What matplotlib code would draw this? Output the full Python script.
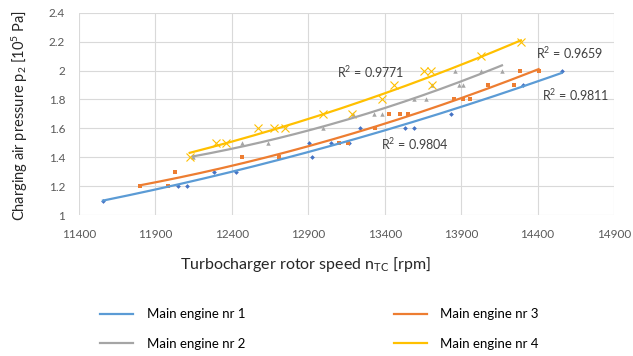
import numpy as np
import matplotlib
matplotlib.use("Agg")
import matplotlib.pyplot as plt
from matplotlib.lines import Line2D

plt.rcParams['font.family'] = ['Lato', 'DejaVu Sans']
plt.rcParams['mathtext.default'] = 'regular'

# Measured charging air pressure vs. turbocharger rotor speed
engine1_rpm = [11557, 12047, 12104, 12282, 12429, 12903, 12925, 13050, 13169,
               13241, 13535, 13590, 13836, 14307, 14557]
engine1_p = [1.1, 1.2, 1.2, 1.3, 1.3, 1.5, 1.4, 1.5, 1.5,
             1.6, 1.6, 1.6, 1.7, 1.9, 2.0]

engine2_rpm = [12145, 12468, 12635, 12993, 13191, 13333, 13383, 13594, 13670,
               13707, 13860, 13888, 13915, 14032, 14167]
engine2_p = [1.4, 1.5, 1.5, 1.6, 1.7, 1.7, 1.7, 1.8, 1.8,
             1.9, 2.0, 1.9, 1.9, 2.0, 2.0]

engine3_rpm = [11797, 11982, 12025, 12468, 12707, 13099, 13161, 13339, 13431,
               13501, 13553, 13853, 13915, 13955, 14078, 14243, 14283, 14407]
engine3_p = [1.2, 1.2, 1.3, 1.4, 1.4, 1.5, 1.5, 1.6, 1.7,
             1.7, 1.7, 1.8, 1.8, 1.8, 1.9, 1.9, 2.0, 2.0]

engine4_rpm = [12124, 12298, 12363, 12570, 12675, 12748, 12995, 13186, 13380,
               13459, 13659, 13705, 13707, 14033, 14291]
engine4_p = [1.4, 1.5, 1.5, 1.6, 1.6, 1.6, 1.7, 1.7, 1.8,
             1.9, 2.0, 2.0, 1.9, 2.1, 2.2]

series_names = ["Main engine nr 1", "Main engine nr 2",
                "Main engine nr 3", "Main engine nr 4"]
r2_labels = ["0.9811", "0.9771", "0.9804", "0.9659"]

x_ticks = [11400, 11900, 12400, 12900, 13400, 13900, 14400, 14900]
y_ticks = [1, 1.2, 1.4, 1.6, 1.8, 2, 2.2, 2.4]
y_tick_labels = ["1", "1.2", "1.4", "1.6", "1.8", "2", "2.2", "2.4"]

fig = plt.figure(figsize=(6.33, 3.56), dpi=100)
ax = fig.add_axes([0.1248, 0.396, 0.8452, 0.5683])

series = [
    (engine1_rpm, engine1_p, "#4472C4", "#5B9BD5", "D", 2.4, 0),
    (engine2_rpm, engine2_p, "#A5A5A5", "#A5A5A5", "^", 3.2, 0),
    (engine3_rpm, engine3_p, "#ED7D31", "#ED7D31", "s", 3.3, 0),
    (engine4_rpm, engine4_p, "#FFC000", "#FFC000", "x", 5.2, 0.8),
]

handles = []
for (rpm, p, mcol, lcol, mk, ms, mew), name in zip(series, series_names):
    rpm = np.asarray(rpm, float)
    p = np.asarray(p, float)
    ax.plot(rpm, p, linestyle="none", marker=mk, markersize=ms,
            color=mcol, markeredgewidth=mew, zorder=3)
    # second-order polynomial trendline over the measured range
    coef = np.polyfit(rpm, p, 2)
    xs = np.linspace(rpm.min(), rpm.max(), 200)
    ax.plot(xs, np.polyval(coef, xs), color=lcol, linewidth=1.6, zorder=4)
    handles.append(Line2D([], [], color=lcol, linewidth=1.6, label=name))

# coefficient of determination annotations
r2_pos = [(14429, 1.830), (13091, 1.992), (13376, 1.489), (14390, 2.119)]
for (xp, yp), r2 in zip(r2_pos, r2_labels):
    ax.text(xp, yp, "R$^2$ = " + r2, fontsize=9, color="#404040",
            ha="left", va="center", zorder=5)

ax.set_xlim(11400, 14900)
ax.set_ylim(1, 2.4)
ax.set_xticks(x_ticks)
ax.set_xticklabels([str(t) for t in x_ticks])
ax.set_yticks(y_ticks)
ax.set_yticklabels(y_tick_labels)
ax.grid(True, color="#D9D9D9", linewidth=0.8)
ax.set_axisbelow(True)
for s in ax.spines.values():
    s.set_visible(False)
ax.tick_params(axis="both", length=0, labelsize=8.5, labelcolor="#595959")
ax.tick_params(axis="x", pad=10)
ax.tick_params(axis="y", pad=10)

fig.text(305 / 633, 1 - 265 / 356, "Turbocharger rotor speed n$_{TC}$ [rpm]",
         fontsize=11.5, ha="center", va="center", color="#262626")
fig.text(20 / 633, 1 - 115 / 356, "Charging air pressure p$_2$ [10$^5$ Pa]",
         fontsize=10.5, ha="center", va="center", rotation=90, color="#262626")

fig.legend(handles=handles, ncol=2, loc="center",
           bbox_to_anchor=(0.505, 1 - 329 / 356), frameon=False,
           fontsize=9.5, handlelength=2.5, handletextpad=1.0,
           columnspacing=11.3, labelspacing=1.3, borderpad=0)

fig.savefig("out.png", dpi=100)
